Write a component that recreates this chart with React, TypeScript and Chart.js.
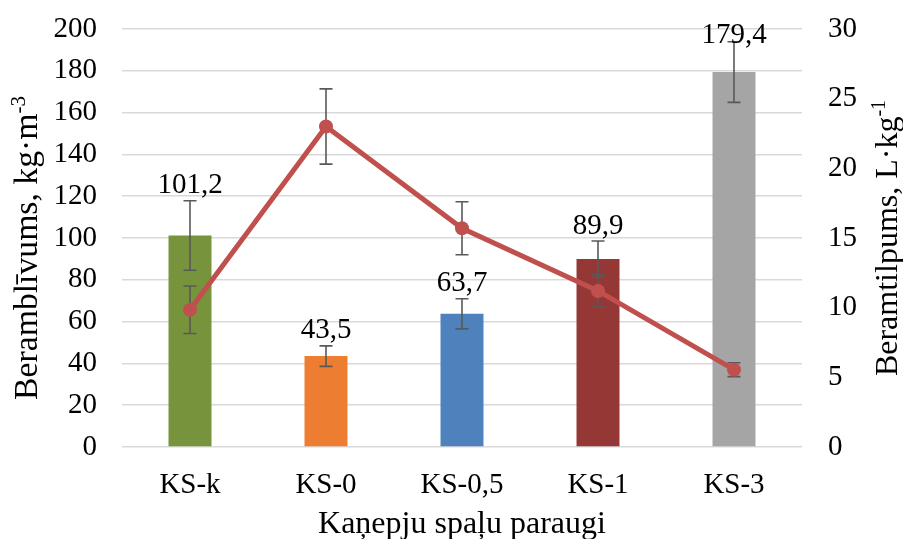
import { useEffect, useRef } from "react";
import { Chart, registerables } from "chart.js";

Chart.register(...registerables);

// Samples along the category axis
const categories = ["KS-k", "KS-0", "KS-0,5", "KS-1", "KS-3"];

// Bulk density (left axis, kg·m-3) with standard deviation
const bulkDensity = [101.2, 43.5, 63.7, 89.9, 179.4];
const bulkDensityErr = [16.6, 4.9, 7.2, 8.7, 14.5];

// Bulk volume (right axis, L·kg-1) with standard deviation
const bulkVolume = [9.85, 23.0, 15.7, 11.2, 5.55];
const bulkVolumeErr = [1.7, 2.7, 1.9, 1.15, 0.5];

const barColors = ["#77933C", "#ED7D31", "#4F81BD", "#953735", "#A5A5A5"];
const lineColor = "#C0504D";

const densityAxis = { min: 0, max: 200, step: 20 };
const volumeAxis = { min: 0, max: 30, step: 5 };

const leftTitle = { main: "Beramblīvums, kg·m", sup: "-3" };
const rightTitle = { main: "Beramtilpums, L·kg", sup: "-1" };
const bottomTitle = "Kaņepju spaļu paraugi";

const FONT = "'Liberation Serif', 'Times New Roman', serif";
const errorsByDataset = [bulkDensityErr, bulkVolumeErr];

const fmt = (v: number) => v.toFixed(1).replace(".", ",");

function drawErrors(chart: any, index: number) {
  const meta = chart.getDatasetMeta(index);
  const ds = chart.data.datasets[index];
  const scale = chart.scales[ds.yAxisID];
  const errs = errorsByDataset[index];
  const ctx = chart.ctx;
  ctx.save();
  ctx.strokeStyle = "#595959";
  ctx.lineWidth = 1.6;
  meta.data.forEach((el: any, j: number) => {
    const v = ds.data[j];
    const e = errs[j];
    const x = el.x;
    const yTop = scale.getPixelForValue(v + e);
    const yBot = scale.getPixelForValue(v - e);
    const cap = 6.5;
    ctx.beginPath();
    ctx.moveTo(x, yTop);
    ctx.lineTo(x, yBot);
    ctx.moveTo(x - cap, yTop);
    ctx.lineTo(x + cap, yTop);
    ctx.moveTo(x - cap, yBot);
    ctx.lineTo(x + cap, yBot);
    ctx.stroke();
  });
  ctx.restore();
}

function drawRotatedTitle(ctx: CanvasRenderingContext2D, cy: number, baselineX: number, main: string, sup: string, size: number) {
  ctx.save();
  ctx.font = `${size}px ${FONT}`;
  const wMain = ctx.measureText(main).width;
  ctx.font = `${Math.round(size * 0.62)}px ${FONT}`;
  const wSup = ctx.measureText(sup).width;
  const total = wMain + wSup;
  ctx.translate(baselineX, cy);
  ctx.rotate(-Math.PI / 2);
  ctx.fillStyle = "#000";
  ctx.textBaseline = "alphabetic";
  ctx.textAlign = "left";
  ctx.font = `${size}px ${FONT}`;
  ctx.fillText(main, -total / 2, 0);
  ctx.font = `${Math.round(size * 0.62)}px ${FONT}`;
  ctx.fillText(sup, -total / 2 + wMain, -size * 0.36);
  ctx.restore();
}

const overlayPlugin = {
  id: "overlay",
  beforeDatasetDraw(chart: any, args: any) {
    if (args.index === 1) drawErrors(chart, 1);
  },
  afterDatasetDraw(chart: any, args: any) {
    if (args.index === 0) drawErrors(chart, 0);
  },
  afterDatasetsDraw(chart: any) {
    const ctx = chart.ctx;
    const meta = chart.getDatasetMeta(0);
    const scale = chart.scales.yDensity;
    const top = chart.chartArea.top;
    ctx.save();
    ctx.fillStyle = "#000";
    ctx.font = `29px ${FONT}`;
    ctx.textAlign = "center";
    ctx.textBaseline = "middle";
    meta.data.forEach((el: any, j: number) => {
      // value label sits above the error bar, kept inside the plot area
      const y = Math.max(scale.getPixelForValue(bulkDensity[j] + bulkDensityErr[j]) - 15, top + 6);
      ctx.fillText(fmt(bulkDensity[j]), el.x, y);
    });
    ctx.restore();
  },
  afterDraw(chart: any) {
    const ctx = chart.ctx;
    const area = chart.chartArea;
    const cy = (area.top + area.bottom) / 2;
    drawRotatedTitle(ctx, cy + 10, 37, leftTitle.main, leftTitle.sup, 33.7);
    drawRotatedTitle(ctx, cy, 897, rightTitle.main, rightTitle.sup, 32);
    ctx.save();
    ctx.fillStyle = "#000";
    ctx.font = `32px ${FONT}`;
    ctx.textAlign = "center";
    ctx.textBaseline = "alphabetic";
    ctx.fillText(bottomTitle, (area.left + area.right) / 2, 533);
    ctx.restore();
  },
};

export default function App() {
  const canvasRef = useRef<HTMLCanvasElement | null>(null);

  useEffect(() => {
    if (!canvasRef.current) return;
    const tickFont = { family: FONT, size: 29 };
    const fitVertical = (width: number) => (s: any) => {
      s.width = width;
      s.paddingTop = 0;
      s.paddingBottom = 0;
    };
    const chart = new Chart(canvasRef.current, {
      type: "bar",
      data: {
        labels: categories,
        datasets: [
          {
            type: "bar",
            label: "Beramblīvums",
            data: bulkDensity,
            backgroundColor: barColors,
            yAxisID: "yDensity",
            barPercentage: 0.316,
            categoryPercentage: 1,
            order: 2,
          },
          {
            type: "line",
            label: "Beramtilpums",
            data: bulkVolume,
            borderColor: lineColor,
            backgroundColor: lineColor,
            borderWidth: 5,
            pointRadius: 7,
            pointBorderWidth: 0,
            pointBackgroundColor: lineColor,
            yAxisID: "yVolume",
            tension: 0,
            order: 1,
          },
        ],
      },
      options: {
        animation: false,
        responsive: false,
        devicePixelRatio: 1,
        layout: { padding: { top: 29, left: 0, right: 0, bottom: 0 } },
        plugins: {
          legend: { display: false },
          tooltip: { enabled: false },
        },
        scales: {
          x: {
            grid: { display: false },
            border: { display: false },
            ticks: { font: tickFont, color: "#000", padding: 13, maxRotation: 0 },
            afterFit: (s: any) => {
              s.height = 92;
              s.paddingLeft = 0;
              s.paddingRight = 0;
            },
          },
          yDensity: {
            position: "left",
            min: densityAxis.min,
            max: densityAxis.max,
            ticks: { stepSize: densityAxis.step, font: tickFont, color: "#000", padding: 25 },
            grid: { color: "#D9D9D9", lineWidth: 1.6, drawTicks: false },
            border: { display: false },
            afterFit: fitVertical(122),
          },
          yVolume: {
            position: "right",
            min: volumeAxis.min,
            max: volumeAxis.max,
            ticks: { stepSize: volumeAxis.step, font: tickFont, color: "#000", padding: 26 },
            grid: { display: false, drawTicks: false },
            border: { display: false },
            afterFit: fitVertical(101),
          },
        },
      },
      plugins: [overlayPlugin],
    });
    return () => chart.destroy();
  }, []);

  return (
    <div style={{ position: "fixed", left: 0, top: 0, width: 903, height: 539, background: "#fff" }}>
      <canvas ref={canvasRef} width={903} height={539} style={{ display: "block" }} />
    </div>
  );
}
